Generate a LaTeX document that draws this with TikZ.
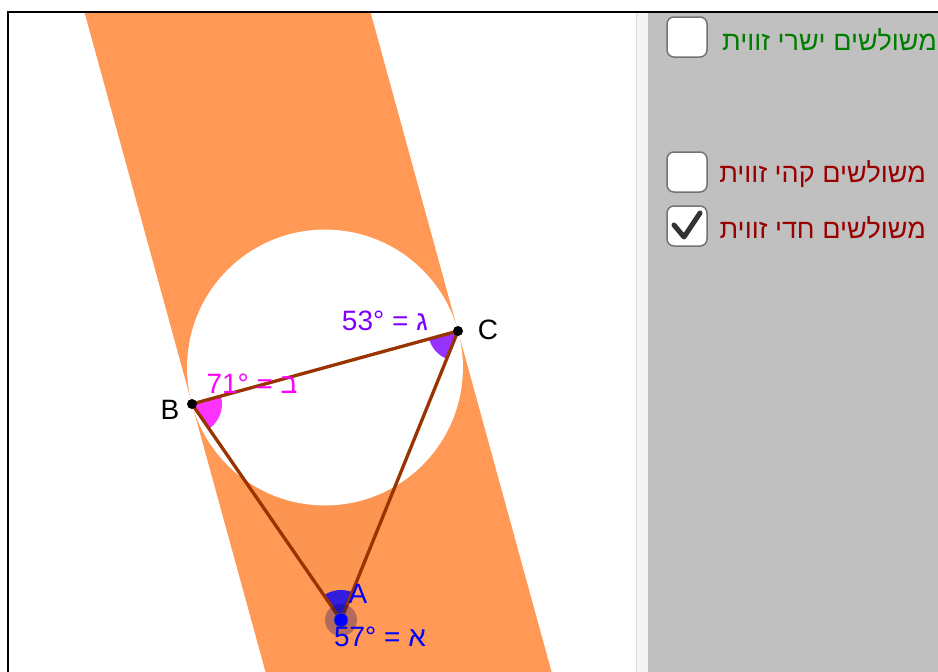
\documentclass[tikz,border=0pt]{standalone}
\usepackage{fontspec}
\setmainfont{Liberation Sans}
\newfontfamily\hebfont[Script=Hebrew]{Liberation Sans}
\TeXXeTstate=1
\usetikzlibrary{calc,angles}
\definecolor{bandorange}{RGB}{255,153,85}
\definecolor{sidebrown}{RGB}{153,51,0}
\definecolor{angmag}{RGB}{255,0,255}
\definecolor{angpur}{RGB}{127,0,255}
\definecolor{angblue}{RGB}{0,0,255}
\definecolor{panelgray}{RGB}{192,192,192}
\definecolor{stripgray}{RGB}{245,245,245}
\definecolor{labgreen}{RGB}{0,125,0}
\definecolor{labred}{RGB}{153,0,0}
\tikzset{
  tri/.style={x=1pt, y=-1pt, font=\fontsize{28}{32}\selectfont},
  t side/.style={draw=sidebrown, line width=3.3pt, line join=round},
  t dot/.style={circle, fill=black, inner sep=0pt, minimum size=10pt},
  t ang/.style={fill opacity=0.8, angle radius=30pt},
  t lab/.style={inner sep=0pt},
  t chk/.style={draw=black!55, line width=1.5pt, fill=white, rounded corners=7pt,
                minimum size=40pt, inner sep=0pt},
  t heb/.style={anchor=east, inner sep=0pt, font=\fontsize{27}{32}\selectfont\hebfont},
}

\begin{document}
\begin{tikzpicture}[tri]
\useasboundingbox (0,0) rectangle (938,672);
% ---- side panel ----
\fill[panelgray] (648,13) rectangle (938,672);
\fill[stripgray] (636,13) rectangle (648,672);
\draw[black!15] (636,13) -- (636,672);
% ---- triangle points ----
\coordinate (A) at (341,620);
\coordinate (B) at (192,404);
\coordinate (C) at (458,331);
\coordinate (M) at ($(B)!.5!(C)$);
% ---- band and Thales circle ----
\begin{scope}
\clip (8,12) rectangle (636,672);
\fill[bandorange] ($(B)!3!90:(C)$) -- ($(C)!3!-90:(B)$) -- ($(C)!3!90:(B)$) -- ($(B)!3!-90:(C)$) -- cycle;
\fill[sidebrown, opacity=0.04] (A) -- (B) -- (C) -- cycle;
\path let \p1=($(C)-(B)$), \n1={veclen(\x1,\y1)/2} in
  [fill=white] (M) circle[radius=\n1];
\end{scope}
% ---- angles ----
\pic[t ang, fill=angmag] {angle=A--B--C};
\pic[t ang, fill=angpur] {angle=B--C--A};
\pic[t ang, fill=angblue] {angle=C--A--B};
\draw[t side] (A) -- (B) -- (C) -- cycle;
\node[t dot] (pB) at (B) {};
\node[t dot] (pC) at (C) {};
\fill[blue!45!black, opacity=0.3] (A) circle[radius=16pt];
\node[t dot, fill=angblue, draw=black!60, minimum size=14pt] (pA) at (A) {};
% ---- labels ----
\node[t lab] (lB) at (170,410) {B};
\node[t lab] (lC) at (488,330) {C};
\node[t lab, text=angblue] (lA) at (358,594) {A};
\node[t lab, text=angpur] (lgam) at (385,321) {53° = {\hebfont ג}};
\node[t lab, text=angmag] (lbet) at (252,384) {71° = {\hebfont ב}};
\node[t lab, text=angblue] (lalf) at (380,637) {57° = {\hebfont א}};
% ---- check boxes ----
\node[t chk] (cbr) at (687,37) {};
\node[t chk] (cob) at (687,172) {};
\node[t chk] (cac) at (687,226) {};
\draw[line width=5pt, black!80, line cap=round, line join=round]
  ($(cac)+(-13,-1)$) -- ($(cac)+(-3,11)$) -- ($(cac)+(13,-13)$);
\node[t heb, text=labgreen] (hbr) at (937,40) {\beginR משולשים ישרי זווית\endR};
\node[t heb, text=labred] (hob) at (926,174) {\beginR משולשים קהי זווית\endR};
\node[t heb, text=labred] (hac) at (926,228) {\beginR משולשים חדי זווית\endR};
% ---- frame ----
\draw[line width=2pt] (8,672) -- (8,12) -- (938,12);
\end{tikzpicture}
\end{document}
